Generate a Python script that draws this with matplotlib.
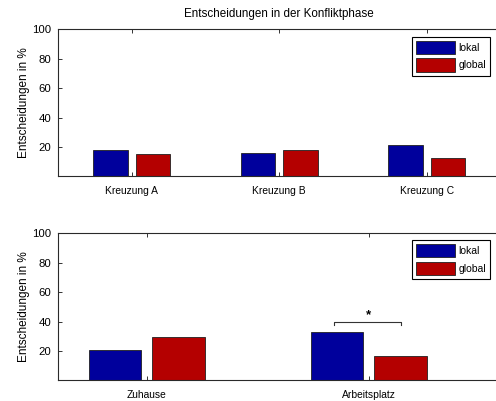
import numpy as np
import matplotlib.pyplot as plt

plt.rcParams['font.family'] = ['Liberation Sans', 'DejaVu Sans']
plt.rcParams['font.size'] = 7

# Konfliktphase: Kreuzungen
kreuzungen = ['Kreuzung A', 'Kreuzung B', 'Kreuzung C']
kreuz_lokal = [17.9, 15.7, 21.1]
kreuz_global = [15.5, 18.2, 12.7]

# Orte
orte = ['Zuhause', 'Arbeitsplatz']
orte_lokal = [20.8, 33.1]
orte_global = [29.5, 16.3]

blau = '#00009c'
rot = '#b40000'
offset = 0.143
breite = 0.235

fig = plt.figure(figsize=(4.96, 4.01), dpi=100)
ax1 = fig.add_axes([58 / 496, 1 - 176.4 / 401, 442.5 / 496, 147.1 / 401])
ax2 = fig.add_axes([58 / 496, 1 - 380.3 / 401, 442.5 / 496, 147.0 / 401])


def gruppen_bars(ax, labels, lokal, glob):
    x = np.arange(1, len(labels) + 1)
    b1 = ax.bar(x - offset, lokal, breite, color=blau, edgecolor='#202020',
                linewidth=0.6, label='lokal')
    b2 = ax.bar(x + offset, glob, breite, color=rot, edgecolor='#202020',
                linewidth=0.6, label='global')
    ax.set_xticks(x)
    ax.set_xticklabels(labels, fontsize=7.4)
    ax.set_ylim(0, 100)
    ax.set_yticks([20, 40, 60, 80, 100])
    ax.set_ylabel('Entscheidungen in %', labelpad=1.5, fontsize=8.5)
    ax.tick_params(direction='in', top=True, right=True, length=3,
                   width=0.7, color='#333333')
    ax.tick_params(axis='x', pad=7)
    ax.tick_params(axis='y', pad=5, labelsize=8.2)
    for s in ax.spines.values():
        s.set_linewidth(0.8)
        s.set_color('#2a2a2a')
    return b1, b2


gruppen_bars(ax1, kreuzungen, kreuz_lokal, kreuz_global)
ax1.set_xlim(0.5, 0.5 + 442.5 / 147.5)
ax1.set_title('Entscheidungen in der Konfliktphase', pad=8.5)

gruppen_bars(ax2, orte, orte_lokal, orte_global)
ax2.set_xlim(0.6, 0.6 + 442.5 / 222)

# Signifikanz-Klammer Arbeitsplatz
kl_x = [2 - offset - 0.012, 2 - offset - 0.012, 2 + offset + 0.003, 2 + offset + 0.003]
kl_y = [37.7, 40, 40, 37.7]
ax2.plot(kl_x, kl_y, color='#333333', linewidth=0.8)
ax2.text(2, 40.5, '*', ha='center', va='bottom', fontsize=9.5, fontweight='bold')

for ax, top in [(ax1, 36.7), (ax2, 240)]:
    leg = ax.legend(loc='upper left', bbox_to_anchor=(411.7 / 496, 1 - top / 401),
                    bbox_transform=fig.transFigure, borderaxespad=0,
                    handlelength=3.7, handleheight=1.55, handletextpad=0.35,
                    labelspacing=0.42, borderpad=0.42, fancybox=False,
                    framealpha=1, fontsize=7.5)
    leg.get_frame().set_edgecolor('black')
    leg.get_frame().set_linewidth(0.8)

fig.savefig('out.png', dpi=100)
